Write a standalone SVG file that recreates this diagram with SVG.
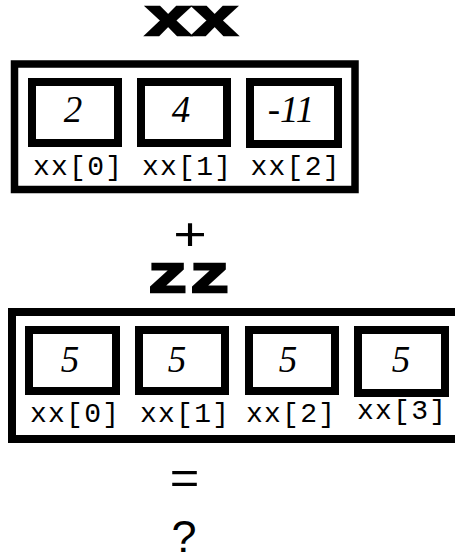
<svg xmlns="http://www.w3.org/2000/svg" width="455" height="559" viewBox="0 0 455 559">
<style>
.outer{fill:none;stroke:#000;stroke-width:8}
.cell{fill:#fff;stroke:#000;stroke-width:8}
.num{font-family:"Liberation Serif","Times New Roman",serif;font-style:italic;font-size:37px;text-anchor:middle;fill:#000}
.lbl{font-family:"Liberation Mono","Courier New",monospace;font-size:28px;text-anchor:middle;fill:#000}
.title{font-family:"Liberation Mono","Courier New",monospace;font-weight:bold;font-size:51px;fill:#000;stroke:#000;stroke-width:2.5;stroke-linejoin:miter}
.op{font-family:"Liberation Sans",Arial,sans-serif;font-size:46px;text-anchor:middle;fill:#000}
</style>
<rect width="455" height="559" fill="#fff"/>
<g id="title-xx"><text class="title" x="145" y="35" textLength="93" lengthAdjust="spacingAndGlyphs">xx</text></g>
<g id="array-xx">
<rect class="outer" x="14.5" y="64" width="340.5" height="125.5" style="stroke-width:7.5"/>
<g id="xx0"><rect class="cell" x="32" y="82" width="86" height="61"/><text class="num" x="73" y="122">2</text><text class="lbl" x="77.5" y="175" textLength="89" lengthAdjust="spacing">xx[0]</text></g>
<g id="xx1"><rect class="cell" x="141" y="82" width="86" height="61"/><text class="num" x="181" y="122">4</text><text class="lbl" x="186.5" y="175" textLength="89" lengthAdjust="spacing">xx[1]</text></g>
<g id="xx2"><rect class="cell" x="250" y="82" width="88" height="62"/><text class="num" x="291" y="122">-11</text><text class="lbl" x="295" y="175" textLength="89" lengthAdjust="spacing">xx[2]</text></g>
</g>
<g id="op-plus"><text class="op" x="0" y="0" transform="translate(190 250) scale(1.25 1)">+</text></g>
<g id="title-zz"><text class="title" x="147" y="292" textLength="84" lengthAdjust="spacingAndGlyphs">zz</text></g>
<g id="array-zz">
<rect class="outer" x="12" y="312" width="460" height="127"/>
<g id="zz0"><rect class="cell" x="29" y="330" width="87" height="61"/><text class="num" x="70" y="372">5</text><text class="lbl" x="74.5" y="422" textLength="89" lengthAdjust="spacing">xx[0]</text></g>
<g id="zz1"><rect class="cell" x="139" y="330" width="86" height="61"/><text class="num" x="177" y="372">5</text><text class="lbl" x="184.5" y="422" textLength="89" lengthAdjust="spacing">xx[1]</text></g>
<g id="zz2"><rect class="cell" x="249" y="330" width="86" height="61"/><text class="num" x="288" y="372">5</text><text class="lbl" x="290.5" y="422" textLength="89" lengthAdjust="spacing">xx[2]</text></g>
<g id="zz3"><rect class="cell" x="358" y="330" width="87" height="63"/><text class="num" x="401" y="372">5</text><text class="lbl" x="401.5" y="419" textLength="89" lengthAdjust="spacing">xx[3]</text></g>
</g>
<g id="op-eq"><text class="op" x="0" y="0" transform="translate(184.5 494) scale(1.1 1)">=</text></g>
<g id="op-q"><text class="op" x="184" y="552" style="font-size:45px">?</text></g>
</svg>
